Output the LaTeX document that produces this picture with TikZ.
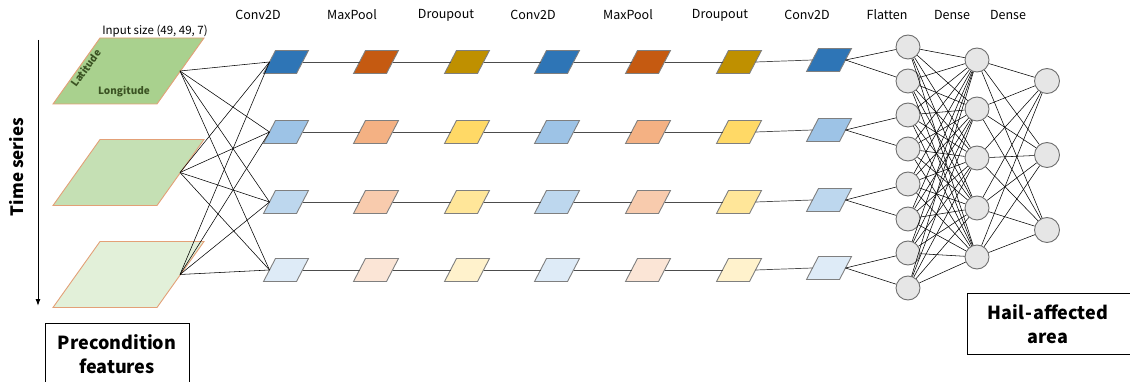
\documentclass[tikz,border=0pt]{standalone}
\usepackage{fontspec}
\setmainfont{Noto Sans CJK SC}
\usetikzlibrary{arrows.meta}

% feature-map colours, one shade per row
\definecolor{cvA}{HTML}{2E75B6}\definecolor{cvB}{HTML}{9DC3E6}\definecolor{cvC}{HTML}{BDD7EE}\definecolor{cvD}{HTML}{DEEBF7}
\definecolor{mpA}{HTML}{C55A11}\definecolor{mpB}{HTML}{F4B183}\definecolor{mpC}{HTML}{F8CBAD}\definecolor{mpD}{HTML}{FBE5D6}
\definecolor{dpA}{HTML}{BF9000}\definecolor{dpB}{HTML}{FFD966}\definecolor{dpC}{HTML}{FFE699}\definecolor{dpD}{HTML}{FFF2CC}
\definecolor{inA}{HTML}{A9D18E}\definecolor{inB}{HTML}{C5E0B4}\definecolor{inC}{HTML}{E2F0D9}
\definecolor{inborder}{HTML}{E3A077}
\definecolor{mapborder}{HTML}{7F7F7F}
\definecolor{neuronfill}{HTML}{E6E6E6}
\definecolor{neuronborder}{HTML}{6F6F6F}
\definecolor{axislabel}{HTML}{3B5323}

\tikzset{
  header/.style={font=\fontsize{12.5}{13}\selectfont, anchor=center},
  mapedge/.style={draw=mapborder, line width=0.9pt, line join=miter},
  rowline/.style={draw=black!70, line width=0.7pt},
  wire/.style={draw=black, line width=0.55pt},
  neuron/.style={circle, draw=neuronborder, fill=neuronfill, line width=0.9pt, minimum size=24pt, inner sep=0pt},
}

% \fmap{name}{cx}{cy}{fill}: small slanted feature map with edge anchors name-l / name-r
\newcommand{\fmap}[4]{%
  \fill[#4] (#2-16.5-6,#3+11.5) -- (#2+16.5-6,#3+11.5) -- (#2+16.5+6,#3-11.5) -- (#2-16.5+6,#3-11.5) -- cycle;
  \draw[mapedge] (#2-16.5-6,#3+11.5) -- (#2+16.5-6,#3+11.5) -- (#2+16.5+6,#3-11.5) -- (#2-16.5+6,#3-11.5) -- cycle;
  \coordinate (#1-l) at (#2-16.5,#3);
  \coordinate (#1-r) at (#2+16.5,#3);
}
% \inmap{name}{cy}{fill}: large slanted input grid
\newcommand{\inmap}[3]{%
  \filldraw[fill=#3, draw=inborder, line width=0.9pt] (53,#2+33) -- (157,#2+33) -- (204,#2-33) -- (100,#2-33) -- cycle;
  \coordinate (#1-r) at (180,#2);
}

\begin{document}
\begin{tikzpicture}[x=1pt, y=-1pt]
\useasboundingbox (0,0) rectangle (1130,382);

% layer headers
\node[header] (h1) at (258,15) {Conv2D};
\node[header] (h2) at (352,15) {MaxPool};
\node[header] (h3) at (446,15) {Droupout};
\node[header] (h4) at (533,15) {Conv2D};
\node[header] (h5) at (628,15) {MaxPool};
\node[header] (h6) at (720,15) {Droupout};
\node[header] (h7) at (807,15) {Conv2D};
\node[header] (h8) at (887,15) {Flatten};
\node[header] (h9) at (952,15) {Dense};
\node[header] (h10) at (1008,15) {Dense};
\node[font=\fontsize{11.5}{12}\selectfont] (insize) at (155,31) {Input size (49, 49, 7)};

% time axis
\coordinate (tTop) at (38,40);
\coordinate (tBot) at (38,306);
\draw[line width=1pt, -{Latex[length=7pt,width=5pt]}] (tTop) -- (tBot);
\node[rotate=90, font=\fontsize{17}{18}\selectfont\bfseries] (tlabel) at (17,167) {Time series};

% input grids
\inmap{inA}{71}{inA}
\inmap{inB}{172.5}{inB}
\inmap{inC}{274.5}{inC}
\node[rotate=54, inner sep=0pt, font=\fontsize{10}{10}\selectfont\bfseries, text=axislabel] (lat) at (86,68) {Latitude};
\node[inner sep=0pt, font=\fontsize{10}{10}\selectfont\bfseries, text=axislabel] (lon) at (124,92) {Longitude};

% feature maps: four rows, seven columns
\foreach \r/\y/\a/\b/\c in {1/62/cvA/mpA/dpA, 2/132/cvB/mpB/dpB, 3/202/cvC/mpC/dpC, 4/270/cvD/mpD/dpD}{
  \fmap{m\r c1}{286}{\y}{\a}
  \fmap{m\r c2}{376}{\y}{\b}
  \fmap{m\r c3}{467}{\y}{\c}
  \fmap{m\r c4}{557}{\y}{\a}
  \fmap{m\r c5}{648}{\y}{\b}
  \fmap{m\r c6}{739}{\y}{\c}
  \fmap{m\r c7}{829}{\y-2}{\a}
}
\foreach \r in {1,...,4}{
  \foreach \c [evaluate=\c as \n using int(\c+1)] in {1,...,6}{
    \draw[rowline] (m\r c\c-r) -- (m\r c\n-l);
  }
}

% every input grid feeds every first-layer map
\foreach \i in {inA,inB,inC}{
  \foreach \r in {1,...,4}{
    \draw[wire] (\i-r) -- (m\r c1-l);
  }
}

% dense layers
\foreach \k/\y in {1/47,2/81,3/115,4/149,5/184,6/219,7/253,8/288}{
  \node[neuron] (d\k) at (908,\y) {};
}
\foreach \k/\y in {1/60,2/109,3/158,4/208,5/257}{
  \node[neuron] (e\k) at (977,\y) {};
}
\foreach \k/\y in {1/81,2/155,3/230}{
  \node[neuron, minimum size=25pt] (o\k) at (1047,\y) {};
}

% flatten outputs into the first dense layer
\foreach \r [evaluate=\r as \p using int(2*\r-1), evaluate=\r as \q using int(2*\r)] in {1,...,4}{
  \draw[wire] (m\r c7-r) -- (d\p);
  \draw[wire] (m\r c7-r) -- (d\q);
}
\foreach \a in {1,...,8}{
  \foreach \b in {1,...,5}{
    \draw[wire] (d\a) -- (e\b);
  }
}
\foreach \a in {1,...,5}{
  \foreach \b in {1,...,3}{
    \draw[wire] (e\a) -- (o\b);
  }
}

% captions
\draw[line width=0.8pt] (45,385) |- (189,323) -- (189,385);
\node[font=\fontsize{18}{24}\selectfont\bfseries, align=center] (pre) at (117,354) {Precondition\\features};
\draw[line width=0.8pt] (1131,293) -| (967,354) -- (1131,354);
\node[font=\fontsize{18}{24}\selectfont\bfseries, align=center] (hail) at (1048,324) {Hail\kern1pt-\kern1pt affected\\area};
\end{tikzpicture}
\end{document}
